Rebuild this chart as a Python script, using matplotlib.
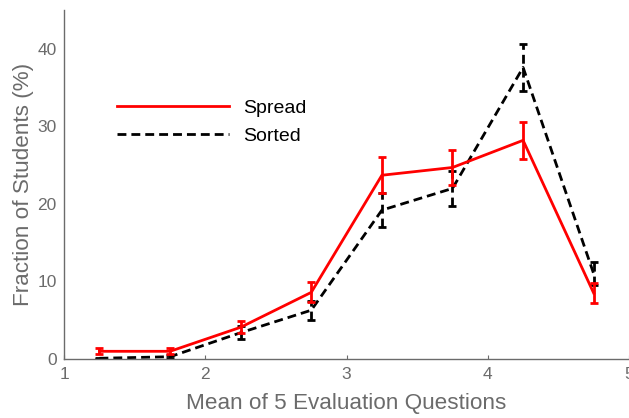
import matplotlib
matplotlib.use("Agg")
import matplotlib.pyplot as plt
from matplotlib.lines import Line2D

x_vals = [1.25, 1.75, 2.25, 2.75, 3.25, 3.75, 4.25, 4.75]
spread = [1.0, 1.0, 4.1, 8.6, 23.7, 24.7, 28.2, 8.5]
spread_err = [0.4, 0.4, 0.8, 1.3, 2.3, 2.3, 2.4, 1.3]
sorted_vals = [0.1, 0.3, 3.4, 6.3, 19.2, 22.0, 37.6, 11.0]
sorted_err = [0.1, 0.2, 0.8, 1.2, 2.2, 2.3, 3.0, 1.5]
x_ticks = [1, 2, 3, 4, 5]
y_ticks = [0, 10, 20, 30, 40]

plt.rcParams['font.family'] = ['Liberation Sans', 'DejaVu Sans']
fig = plt.figure(figsize=(6.29, 4.18), dpi=100)
ax = fig.add_axes([0.102, 0.141, 0.898, 0.835])

gray = '#6b6b6b'
dash = (3.2, 1.8)
ax.errorbar(x_vals, spread, yerr=spread_err, color='#ff0000', lw=2.0,
            capsize=3.0, capthick=2.0, elinewidth=2.0, zorder=3)
eb = ax.errorbar(x_vals, sorted_vals, yerr=sorted_err, color='black', lw=2.0,
                 ls='--', dashes=dash, capsize=3.0, capthick=2.0, elinewidth=2.0,
                 zorder=2)
for lc in eb[2]:
    lc.set_linestyle((0, dash))

ax.set_xlim(1, 5)
ax.set_ylim(0, 45)
ax.set_xticks(x_ticks)
ax.set_yticks(y_ticks)
ax.tick_params(direction='in', length=3, colors=gray, labelsize=12.5, width=0.8, pad=6)
ax.tick_params(axis='y', length=0, pad=5.5)
for s in ['top', 'right']:
    ax.spines[s].set_visible(False)
for s in ['left', 'bottom']:
    ax.spines[s].set_color(gray)
    ax.spines[s].set_linewidth(1.0)

ax.set_xlabel('Mean of 5 Evaluation Questions', fontsize=16.2, color=gray, labelpad=7.5)
ax.set_ylabel('Fraction of Students (%)', fontsize=16.2, color=gray, labelpad=2)

handles = [Line2D([], [], color='#ff0000', lw=2.0),
           Line2D([], [], color='black', lw=2.0, ls='--', dashes=dash)]
leg = ax.legend(handles, ['Spread', 'Sorted'], loc='upper left',
                bbox_to_anchor=(0.062, 0.795), frameon=False,
                fontsize=14, handlelength=5.8, handletextpad=0.7, labelspacing=0.55)

fig.savefig('out.png', dpi=100)
